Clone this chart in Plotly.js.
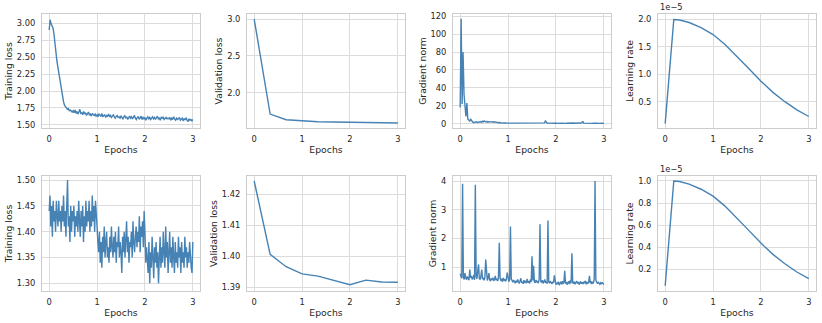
<!DOCTYPE html>
<html>
<head>
<meta charset="utf-8">
<script src="https://cdn.plot.ly/plotly-3.0.1.min.js"></script>
<style>
  html, body { margin: 0; padding: 0; background: #fff; }
  #chart { width: 822px; height: 323px; }
</style>
</head>
<body>
<div id="chart"></div>
<script>
// ---- run 1 (top row): logged every 0.02 epoch ----
var stepsPerEpoch1 = 50;
var trainLoss1 = [
  2.90, 3.05, 2.99, 2.96, 2.93, 2.84, 2.70, 2.52, 2.45, 2.36,
  2.27, 2.19, 2.11, 2.01, 1.89, 1.84, 1.79, 1.77, 1.75, 1.73,
  1.74, 1.71, 1.72, 1.70, 1.69, 1.71,
  1.68, 1.72, 1.67, 1.70, 1.66, 1.69, 1.73, 1.67, 1.68, 1.65, 1.70, 1.66,
  1.68, 1.64, 1.67, 1.69, 1.65, 1.66, 1.63, 1.67, 1.65, 1.64, 1.66, 1.63,
  1.65, 1.62, 1.66, 1.64, 1.63, 1.67, 1.62, 1.64, 1.65, 1.61, 1.64, 1.63, 1.66,
  1.62, 1.64, 1.61, 1.63, 1.65, 1.62, 1.60, 1.63, 1.64, 1.61, 1.62, 1.60,
  1.63, 1.61, 1.59, 1.62, 1.64, 1.60, 1.62, 1.58, 1.61, 1.63, 1.60, 1.62, 1.59,
  1.61, 1.64, 1.60, 1.58, 1.61, 1.62, 1.59, 1.60, 1.63, 1.58, 1.61, 1.59,
  1.61, 1.57, 1.60, 1.62, 1.59, 1.61, 1.58, 1.60, 1.62, 1.59, 1.61, 1.58, 1.60,
  1.63, 1.59, 1.60, 1.57, 1.61, 1.60, 1.62, 1.58, 1.60, 1.61, 1.59, 1.60,
  1.59, 1.61, 1.57, 1.60, 1.58, 1.62, 1.59, 1.57, 1.60, 1.58, 1.59, 1.61, 1.57,
  1.58, 1.60, 1.56, 1.59, 1.58, 1.60, 1.57, 1.55, 1.59, 1.57, 1.58, 1.56, 1.58
];
var gradNorm1 = [
  18, 117, 22, 80, 33, 16, 8, 23, 5, 4,
  3, 5, 2.5, 2, 1.2, 1.8,
  1.5, 2.2, 1.3, 2.0, 1.6, 2.4, 1.4, 2.8, 1.8,
  3.2,
  2.6, 1.9, 2.5, 1.5, 2.2, 1.7, 2.0, 2.3, 1.6, 2.1, 1.8, 1.4, 1.9, 1.2,
  1.0, 1.3, 0.8, 1.1, 0.7, 0.9, 0.6, 0.8, 0.7, 0.6,
  0.6, 0.5, 0.7, 0.5, 0.6, 0.8, 0.5, 0.6, 0.4, 0.7, 0.5, 0.6, 0.9,
  0.5, 0.6, 0.4, 0.7, 0.5, 0.6, 0.5, 0.8, 0.5, 0.6, 0.4, 0.6,
  0.5, 0.7, 0.5, 0.6, 0.4, 0.6, 0.8, 0.5, 0.5, 0.7, 0.4, 0.6, 0.5, 0.9, 3.0,
  0.8, 0.5, 0.6, 0.4, 0.7, 0.5, 0.6, 0.5, 0.7, 0.4,
  0.6, 0.5, 0.4, 0.6, 0.7, 0.5, 0.4, 0.6, 0.5, 0.8, 0.4, 0.5, 0.6,
  0.4, 0.7, 0.5, 0.6, 0.4, 0.5, 0.7, 0.5, 0.4, 0.6, 0.5, 0.6,
  0.5, 0.7, 0.9, 2.7, 0.6, 0.5, 0.4, 0.6, 0.5, 0.7, 0.4, 0.5, 0.6,
  0.4, 0.5, 0.7, 0.4, 0.5, 0.6, 0.4, 0.5, 0.4, 0.6, 0.5, 0.4, 0.5
];

// ---- run 2 (bottom row): logged every 1/60 epoch ----
var stepsPerEpoch2 = 60;
var trainLoss2 = [
  1.44, 1.47, 1.41, 1.45, 1.39, 1.46, 1.42, 1.44, 1.40, 1.46,
  1.43, 1.41, 1.46, 1.42, 1.44, 1.40, 1.45, 1.42, 1.47, 1.41,
  1.44, 1.39, 1.45, 1.50, 1.41, 1.43, 1.38, 1.45, 1.40, 1.44,
  1.42, 1.45, 1.39, 1.43, 1.41, 1.44, 1.40, 1.46, 1.42, 1.39,
  1.44, 1.41, 1.45, 1.38, 1.43, 1.40, 1.46, 1.41, 1.44, 1.42,
  1.46, 1.40, 1.44, 1.41, 1.47, 1.42, 1.45, 1.40, 1.46, 1.42,
  1.41, 1.38, 1.36, 1.40, 1.34, 1.38, 1.33, 1.39, 1.36, 1.41,
  1.35, 1.38, 1.40, 1.35, 1.37, 1.34, 1.39, 1.36, 1.41, 1.37,
  1.35, 1.39, 1.36, 1.40, 1.34, 1.38, 1.37, 1.41, 1.35, 1.38,
  1.36, 1.32, 1.39, 1.36, 1.40, 1.35, 1.38, 1.42, 1.36, 1.39,
  1.34, 1.38, 1.37, 1.40, 1.35, 1.42, 1.38, 1.36, 1.39, 1.41,
  1.37, 1.40, 1.38, 1.43, 1.36, 1.41, 1.39, 1.42, 1.37, 1.44,
  1.40, 1.34, 1.37, 1.35, 1.32, 1.38, 1.30, 1.36, 1.33, 1.39,
  1.35, 1.31, 1.37, 1.34, 1.38, 1.33, 1.36, 1.30, 1.35, 1.39,
  1.33, 1.37, 1.34, 1.40, 1.36, 1.33, 1.41, 1.35, 1.38, 1.32,
  1.36, 1.40, 1.34, 1.37, 1.33, 1.39, 1.35, 1.32, 1.38, 1.34,
  1.36, 1.33, 1.39, 1.35, 1.37, 1.32, 1.38, 1.34, 1.36, 1.33,
  1.39, 1.35, 1.37, 1.33, 1.36, 1.34, 1.38, 1.35, 1.33, 1.32,
  1.38
];
var gradNorm2 = [
  0.78, 0.72, 0.62, 3.90, 0.66, 0.58, 0.80, 0.63, 0.57, 0.68,
  0.60, 0.55, 0.92, 0.64, 0.70, 0.58, 0.62, 0.74, 0.56, 3.87,
  0.68, 0.60, 0.88, 1.10, 0.62, 0.57, 0.70, 0.92, 0.59, 0.64,
  0.55, 0.66, 1.27, 0.60, 0.54, 0.63, 0.80, 0.57, 0.52, 0.61,
  0.56, 0.64, 0.53, 0.58, 0.70, 0.55, 0.60, 0.52, 0.66, 1.85,
  0.62, 0.55, 0.58, 0.50, 0.63, 0.54, 0.57, 0.51, 0.60, 0.82,
  0.55, 0.50, 0.58, 2.42, 0.60, 0.52, 0.48, 0.56, 0.50, 0.45,
  0.53, 0.47, 0.58, 0.49, 0.44, 0.52, 0.62, 0.46, 0.50, 0.43,
  0.55, 0.48, 0.51, 0.45, 0.60, 0.47, 0.52, 0.44, 0.58, 0.49,
  1.38, 0.54, 1.05, 0.50, 0.46, 0.56, 0.48, 0.52, 0.45, 0.60,
  2.50, 0.52, 0.47, 0.55, 0.44, 0.50, 0.58, 0.46, 0.51, 0.43,
  2.63, 0.49, 0.45, 0.52, 0.47, 0.42, 0.50, 0.46, 0.72, 0.44,
  0.40, 0.46, 0.42, 0.50, 0.38, 0.45, 0.48, 0.41, 0.52, 0.44,
  0.47, 0.88, 0.43, 0.49, 0.40, 0.46, 0.51, 0.42, 0.55, 0.45,
  1.49, 0.48, 0.43, 0.50, 0.41, 0.47, 0.52, 0.44, 0.49, 0.40,
  0.46, 0.51, 0.43, 0.48, 0.42, 0.50, 0.45, 0.53, 0.41, 0.47,
  0.44, 0.49, 0.70, 0.45, 0.52, 0.42, 0.48, 0.46, 0.60, 4.00,
  0.55, 0.47, 0.43, 0.49, 0.44, 0.41, 0.46, 0.42, 0.48, 0.43,
  0.40
];

// validation: evaluated every third of an epoch
var valEpochs = [0, 1/3, 2/3, 1, 4/3, 5/3, 2, 7/3, 8/3, 3];
var valLoss1 = [3.00, 1.709, 1.632, 1.614, 1.605, 1.601, 1.596, 1.596, 1.592, 1.587];
var valLoss2 = [1.4242, 1.4006, 1.3966, 1.3943, 1.3936, 1.3923, 1.3908, 1.3923, 1.3917, 1.3916];

// learning rate schedule (warmup then decay)
var lrEpochs = [0, 0.18, 0.3, 0.5, 0.75, 1.0, 1.25, 1.5, 1.75, 2.0, 2.25, 2.5, 2.75, 3.0];
var lr1 = [0.10e-5, 2.00e-5, 1.99e-5, 1.945e-5, 1.85e-5, 1.725e-5, 1.545e-5, 1.33e-5,
           1.10e-5, 0.875e-5, 0.67e-5, 0.50e-5, 0.35e-5, 0.23e-5];
var lr2 = [0.05e-5, 1.00e-5, 0.995e-5, 0.972e-5, 0.925e-5, 0.862e-5, 0.772e-5, 0.665e-5,
           0.55e-5, 0.437e-5, 0.335e-5, 0.25e-5, 0.175e-5, 0.115e-5];

function epochsOf(arr, perEpoch) {
  return arr.map(function (_, i) { return i / perEpoch; });
}

var BLUE = '#4682b4';
var FONT = 'DejaVu Sans, sans-serif';
var TXT = '#262626';
var TICK = 8.3;

function line(x, y, n) {
  return {
    x: x, y: y, type: 'scatter', mode: 'lines',
    xaxis: 'x' + n, yaxis: 'y' + n,
    line: { color: BLUE, width: 1.4 },
    hoverinfo: 'none', showlegend: false
  };
}

var data = [
  line(epochsOf(trainLoss1, stepsPerEpoch1), trainLoss1, 1),
  line(valEpochs, valLoss1, 2),
  line(epochsOf(gradNorm1, stepsPerEpoch1), gradNorm1, 3),
  line(lrEpochs, lr1, 4),
  line(epochsOf(trainLoss2, stepsPerEpoch2), trainLoss2, 5),
  line(valEpochs, valLoss2, 6),
  line(epochsOf(gradNorm2, stepsPerEpoch2), gradNorm2, 7),
  line(lrEpochs, lr2, 8)
];

var W = 822, H = 323;
var colLeft = [42, 247, 453, 658];
var colW = 158;
var rows = [[14, 128], [176, 291]];

function xAxis(col, anchor) {
  return {
    domain: [colLeft[col] / W, (colLeft[col] + colW) / W],
    anchor: anchor,
    range: [-0.15, 3.15], dtick: 1, tick0: 0,
    showgrid: true, gridcolor: '#dcdcdc', gridwidth: 1,
    showline: true, mirror: true, linecolor: '#cccccc', linewidth: 1,
    zeroline: false, ticks: '', ticklabelstandoff: 3,
    tickfont: { family: FONT, size: TICK, color: TXT },
    title: { text: 'Epochs', standoff: 3, font: { family: FONT, size: 9.3, color: TXT } }
  };
}

function yAxis(row, anchor, title, range, extra) {
  var ax = {
    domain: [(H - rows[row][1]) / H, (H - rows[row][0]) / H],
    anchor: anchor,
    range: range,
    showgrid: true, gridcolor: '#dcdcdc', gridwidth: 1,
    showline: true, mirror: true, linecolor: '#cccccc', linewidth: 1,
    zeroline: false, ticks: '', ticklabelstandoff: 4,
    tickfont: { family: FONT, size: TICK, color: TXT },
    title: { text: title, standoff: 2, font: { family: FONT, size: 9.3, color: TXT } }
  };
  for (var k in extra) ax[k] = extra[k];
  return ax;
}

var layout = {
  width: W, height: H,
  margin: { l: 0, r: 0, t: 0, b: 0 },
  paper_bgcolor: '#ffffff', plot_bgcolor: '#ffffff',
  font: { family: FONT, color: TXT },
  xaxis: xAxis(0, 'y'),
  xaxis2: xAxis(1, 'y2'),
  xaxis3: xAxis(2, 'y3'),
  xaxis4: xAxis(3, 'y4'),
  xaxis5: xAxis(0, 'y5'),
  xaxis6: xAxis(1, 'y6'),
  xaxis7: xAxis(2, 'y7'),
  xaxis8: xAxis(3, 'y8'),
  yaxis: yAxis(0, 'x', 'Training loss', [1.455, 3.135], { dtick: 0.25, tick0: 0, tickformat: '.2f' }),
  yaxis2: yAxis(0, 'x2', 'Validation loss', [1.52, 3.07], { dtick: 0.5, tick0: 0, tickformat: '.1f' }),
  yaxis3: yAxis(0, 'x3', 'Gradient norm', [-4.8, 122.4], { dtick: 20, tick0: 0 }),
  yaxis4: yAxis(0, 'x4', 'Learning rate', [0.02e-5, 2.10e-5], {
    tickmode: 'array', tickvals: [0.5e-5, 1.0e-5, 1.5e-5, 2.0e-5], ticktext: ['0.5', '1.0', '1.5', '2.0'] }),
  yaxis5: yAxis(1, 'x5', 'Training loss', [1.285, 1.508], { dtick: 0.05, tick0: 0, tickformat: '.2f' }),
  yaxis6: yAxis(1, 'x6', 'Validation loss', [1.3888, 1.4258], { dtick: 0.01, tick0: 0, tickformat: '.2f' }),
  yaxis7: yAxis(1, 'x7', 'Gradient norm', [0.177, 4.174], { dtick: 1, tick0: 0 }),
  yaxis8: yAxis(1, 'x8', 'Learning rate', [0.003e-5, 1.045e-5], {
    tickmode: 'array', tickvals: [0.2e-5, 0.4e-5, 0.6e-5, 0.8e-5, 1.0e-5], ticktext: ['0.2', '0.4', '0.6', '0.8', '1.0'] }),
  annotations: [
    { text: '1e\u22125', xref: 'x4 domain', yref: 'y4 domain', x: 0, y: 1, xanchor: 'left', yanchor: 'bottom',
      showarrow: false, font: { family: FONT, size: TICK, color: TXT } },
    { text: '1e\u22125', xref: 'x8 domain', yref: 'y8 domain', x: 0, y: 1, xanchor: 'left', yanchor: 'bottom',
      showarrow: false, font: { family: FONT, size: TICK, color: TXT } }
  ]
};

Plotly.newPlot('chart', data, layout, { displayModeBar: false, staticPlot: true });
</script>
</body>
</html>
